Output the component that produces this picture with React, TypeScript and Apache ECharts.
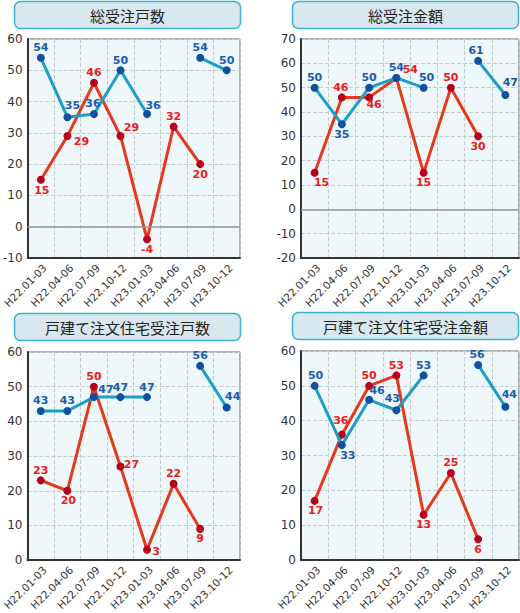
import React, { useEffect, useRef } from 'react'
import * as echarts from 'echarts'

const categories = ['H22.01-03', 'H22.04-06', 'H22.07-09', 'H22.10-12', 'H23.01-03', 'H23.04-06', 'H23.07-09', 'H23.10-12']

const titles = ['総受注戸数', '総受注金額', '戸建て注文住宅受注戸数', '戸建て注文住宅受注金額']

// blue series (null = gap)
const blue1 = [54, 35, 36, 50, 36, null, 54, 50]
const blue2 = [50, 35, 50, 54, 50, null, 61, 47]
const blue3 = [43, 43, 47, 47, 47, null, 56, 44]
const blue4 = [50, 33, 46, 43, 53, null, 56, 44]

// red series
const red1 = [15, 29, 46, 29, -4, 32, 20, null]
const red2 = [15, 46, 46, 54, 15, 50, 30, null]
const red3 = [23, 20, 50, 27, 3, 22, 9, null]
const red4 = [17, 36, 50, 53, 13, 25, 6, null]

const yMin = [-10, -20, 0, 0]
const yMax = [60, 70, 60, 60]

// label offsets per point [dx, dy]
const blueOff = [
  [[0, -10], [5, -12], [-1, -11], [0, -10], [6, -9], null, [0, -10], [0, -10]],
  [[0, -10], [0, 10], [0, -10], [0, -10], [3, -10], null, [-2, -10], [5, -12]],
  [[0, -10], [0, -10], [12, -8], [0, -10], [0, -10], null, [0, -10], [6, -11]],
  [[1, -10], [6, 10], [8, -9], [-4, -12], [0, -10], null, [-1, -10], [4, -12]]
]
const redOff = [
  [[1, 11], [14, 6], [0, -10], [11, -8], [0, 10], [0, -10], [0, 10], null],
  [[7, 10], [-1, -10], [5, 7], [14, -8], [0, 10], [0, -10], [0, 10], null],
  [[0, -10], [1, 10], [0, -10], [11, -2], [9, 2], [0, -10], [0, 10], null],
  [[1, 10], [-1, -14], [0, -10], [0, -10], [0, 10], [0, -10], [0, 10], null]
]

const grids = [
  { left: 22, top: 39, width: 218, height: 219 },
  { left: 301, top: 39, width: 218, height: 219 },
  { left: 22, top: 352, width: 218, height: 220 },
  { left: 301, top: 351, width: 218, height: 220 }
]
const titleBoxes = [
  { x: 14.5, y: 1.5 },
  { x: 292.5, y: 1.5 },
  { x: 14.5, y: 313.5 },
  { x: 292.5, y: 312.5 }
]

const FONT = '"DejaVu Sans", Verdana, sans-serif'

const App: React.FC = () => {
  const chartRef = useRef<HTMLDivElement>(null)

  useEffect(() => {
    document.body.style.margin = '0'
    if (!chartRef.current) return
    const chart = echarts.init(chartRef.current, undefined, { renderer: 'svg' })

    const blues = [blue1, blue2, blue3, blue4]
    const reds = [red1, red2, red3, red4]

    const makeData = (vals: (number | null)[], offs: any[]) =>
      vals.map((v, i) =>
        v === null
          ? null
          : {
              value: v,
              label: { offset: offs[i] || [0, -10] }
            }
      )

    const series: any[] = []
    for (let k = 0; k < 4; k++) {
      const labelBase = {
        show: true,
        position: 'inside',
        fontFamily: FONT,
        fontSize: 11,
        fontWeight: 'bold'
      }
      series.push({
        type: 'line',
        xAxisIndex: k,
        yAxisIndex: k,
        data: makeData(reds[k], redOff[k]),
        connectNulls: false,
        symbol: 'circle',
        symbolSize: 8,
        z: 3,
        lineStyle: { color: '#e8381c', width: 3 },
        itemStyle: { color: '#b8001c' },
        label: { ...labelBase, color: '#ee1c1c' },
        markLine: k < 2 ? {
          silent: true,
          symbol: 'none',
          label: { show: false },
          lineStyle: { color: '#999', type: 'solid', width: 1.5 },
          data: [{ yAxis: 0 }]
        } : undefined
      })
      series.push({
        type: 'line',
        xAxisIndex: k,
        yAxisIndex: k,
        data: makeData(blues[k], blueOff[k]),
        connectNulls: false,
        symbol: 'circle',
        symbolSize: 8,
        z: 4,
        lineStyle: { color: '#1aa0c8', width: 3 },
        itemStyle: { color: '#1050a0' },
        label: { ...labelBase, color: '#1c5cb0' }
      })
    }

    const graphic: any[] = []
    titleBoxes.forEach((b, k) => {
      graphic.push({
        type: 'rect',
        shape: { x: b.x, y: b.y, width: 226, height: 27, r: 6 },
        style: { fill: '#d9e8ee', stroke: '#3cb0d2', lineWidth: 1.5 }
      })
      graphic.push({
        type: 'text',
        x: b.x + 113,
        y: b.y + 14,
        style: {
          text: titles[k],
          fill: '#222',
          font: 'normal 15px "Noto Sans CJK JP", sans-serif',
          textAlign: 'center',
          textVerticalAlign: 'middle'
        }
      })
    })

    chart.setOption({
      animation: false,
      backgroundColor: '#fff',
      grid: grids.map((g) => ({
        ...g,
        show: true,
        backgroundColor: '#eef7f9',
        borderColor: '#666',
        borderWidth: 1
      })),
      xAxis: grids.map((_, k) => ({
        type: 'category',
        gridIndex: k,
        data: categories,
        boundaryGap: true,
        axisLine: { onZero: false, lineStyle: { color: '#333', width: 2 } },
        axisTick: { show: false },
        axisLabel: {
          rotate: 45,
          interval: 0,
          margin: 4,
          verticalAlign: 'top',
          color: '#333',
          fontFamily: FONT,
          fontSize: 10.5
        },
        splitLine: { show: true, lineStyle: { color: '#c4ccd0', type: 'dashed' } }
      })),
      yAxis: grids.map((_, k) => ({
        type: 'value',
        gridIndex: k,
        min: yMin[k],
        max: yMax[k],
        interval: 10,
        axisLine: { show: true, lineStyle: { color: '#333', width: 2 } },
        axisTick: { show: false },
        axisLabel: { color: '#333', fontFamily: FONT, fontSize: 12, margin: 5 },
        splitLine: { show: true, lineStyle: { color: '#c4ccd0', type: 'dashed' } }
      })),
      graphic,
      series
    })

    return () => {
      chart.dispose()
    }
  }, [])

  return <div ref={chartRef} style={{ width: '520px', height: '613px' }} />
}

export default App
